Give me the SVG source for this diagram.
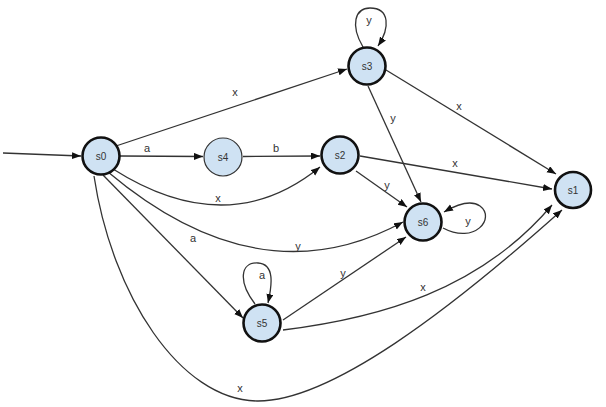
<svg xmlns="http://www.w3.org/2000/svg" width="606" height="407" viewBox="0 0 606 407">
<style>
.node circle{fill:#cfe2f3;stroke:#111;stroke-width:2.6}
.node.thin circle{stroke-width:1.2;stroke:#333}
.node text{font-family:"Liberation Sans",Arial,sans-serif;font-size:10px;fill:#333;text-anchor:middle;dominant-baseline:central}
.edges path{fill:none;stroke:#333;stroke-width:1.3;marker-end:url(#arr)}
.lbl text{font-family:"Liberation Sans",Arial,sans-serif;font-size:11px;fill:#333;text-anchor:middle}
</style>
<defs>
<marker id="arr" markerUnits="userSpaceOnUse" markerWidth="10" markerHeight="8" refX="9" refY="3.5" orient="auto">
<path d="M0,0 L9,3.5 L0,7 z" fill="#111"/>
</marker>
</defs>
<rect width="606" height="407" fill="#fff"/>
<g class="edges" id="connectors">
<path d="M3,153 L81,156"/>
<path d="M116,146 L347,69"/>
<path d="M120,156 L203,156.5"/>
<path d="M243,156.5 L320,156"/>
<path d="M113,169 Q228,242 320,167"/>
<path d="M108,172 Q260,300 403,222"/>
<path d="M103,175 L243,318"/>
<path d="M94,176 C112,295 180,400 257,401 C330,402 450,310 562,210"/>
<path d="M255,304 C238,282 240,262 258,263 C275,264 272,285 268,303"/>
<path d="M283,320 L406,237"/>
<path d="M283,330 C380,318 480,290 552,205"/>
<path d="M363,47 C350,25 355,8 370,8 C390,8 390,28 378,46"/>
<path d="M368,86 L421,202"/>
<path d="M386,70 L556,174"/>
<path d="M360,156 L552,189"/>
<path d="M356,171 L407,207"/>
<path d="M443,228 C475,245 496,218 480,206 C470,199 456,205 444,212"/>
</g>
<g class="lbl" id="labels">
<text x="235" y="96">x</text>
<text x="147" y="152">a</text>
<text x="276" y="152">b</text>
<text x="218" y="202">x</text>
<text x="298" y="250">y</text>
<text x="193" y="242">a</text>
<text x="240" y="392">x</text>
<text x="262" y="279">a</text>
<text x="343" y="277">y</text>
<text x="423" y="291">x</text>
<text x="369" y="24">y</text>
<text x="393" y="122">y</text>
<text x="459" y="110">x</text>
<text x="455" y="167">x</text>
<text x="387" y="189">y</text>
<text x="468" y="225">y</text>
</g>
<g class="node" id="s0"><circle cx="101" cy="156" r="18.5"/><text x="101" y="156">s0</text></g>
<g class="node thin" id="s4"><circle cx="223" cy="157" r="19"/><text x="223" y="157">s4</text></g>
<g class="node" id="s2"><circle cx="340" cy="155" r="18.5"/><text x="340" y="155">s2</text></g>
<g class="node" id="s3"><circle cx="367" cy="66" r="18.5"/><text x="367" y="66">s3</text></g>
<g class="node" id="s6"><circle cx="423" cy="222" r="18.5"/><text x="423" y="222">s6</text></g>
<g class="node" id="s1"><circle cx="573" cy="190" r="18"/><text x="573" y="190">s1</text></g>
<g class="node" id="s5"><circle cx="262" cy="323" r="18.5"/><text x="262" y="323">s5</text></g>
</svg>
